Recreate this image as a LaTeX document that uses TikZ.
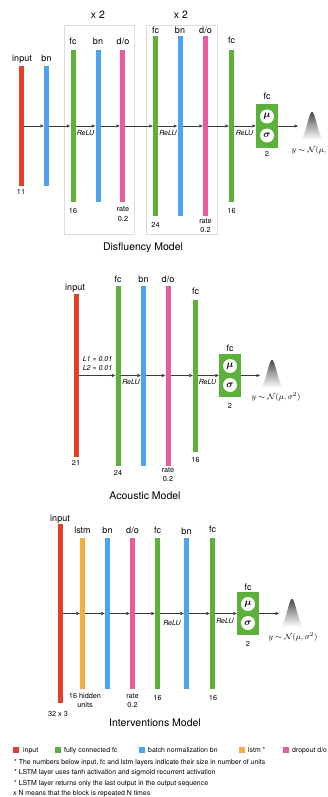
\documentclass[tikz,border=0pt]{standalone}
\usepackage{amsmath}
\usepackage{fontspec}
\setmainfont{TeX Gyre Heros}
\usetikzlibrary{arrows.meta}
\definecolor{cin}{HTML}{E0412B}
\definecolor{cfc}{HTML}{5BB13A}
\definecolor{cbn}{HTML}{4DA3F3}
\definecolor{cdo}{HTML}{EA5A9F}
\definecolor{cls}{HTML}{F3AF3E}
\definecolor{cgrp}{HTML}{DDDDDD}
\definecolor{carr}{HTML}{3A3A3A}
\newcommand\gausscurve[2]{\shade[top color=black!72, bottom color=white, middle color=black!35] plot[domain=-14:14, samples=60, smooth] ({#1+\x},{#2-28*exp(-((\x/6.4)*(\x/6.4)))}) -- cycle;}
\begin{document}
\begin{tikzpicture}[x=1pt,y=-1pt,
 bar/.style={draw=none,inner sep=0,minimum width=5pt},
 lab/.style={font=\fontsize{9}{10}\selectfont, inner sep=0, anchor=base},
 num/.style={font=\fontsize{7.3}{9.3}\selectfont, inner sep=0, anchor=base},
 relu/.style={font=\fontsize{7}{8}\selectfont\itshape, inner sep=0, anchor=base},
 ttl/.style={font=\fontsize{10.5}{12}\selectfont, inner sep=0, anchor=base},
 dist/.style={font=\fontsize{8}{9}\selectfont, inner sep=0},
 note/.style={font=\fontsize{6.9}{8}\selectfont, inner sep=0, anchor=base west},
 arr/.style={draw=carr, line width=0.6pt, -{Triangle[length=3.5pt,width=3pt]}},
 fcbox/.style={fill=cfc, minimum width=22pt, minimum height=43pt, inner sep=0},
 circ/.style={circle, fill=white, minimum size=14pt, inner sep=0, font=\fontsize{10}{10}\selectfont},
 grp/.style={draw=cgrp, line width=0.6pt},
 sq/.style={inner sep=0, minimum size=6pt},
]
\useasboundingbox (0,0) rectangle (328,797);

% ================= Disfluency model =================
\draw[grp] (64,25) rectangle (134,234);
\draw[grp] (146,25) rectangle (217,234);
\node[ttl] (dx1) at (98,19) {x 2};
\node[ttl] (dx2) at (181,19) {x 2};

\node[bar, fill=cin, minimum height=119pt] (din) at (21,126) {};
\node[bar, fill=cbn, minimum height=119pt] (dbn1) at (46.5,126) {};
\node[bar, fill=cfc, minimum height=152pt] (dfc1) at (73,126) {};
\node[bar, fill=cbn, minimum height=152pt] (dbn2) at (98,126) {};
\node[bar, fill=cdo, minimum height=152pt] (ddo1) at (122.5,126) {};
\node[bar, fill=cfc, minimum height=179pt] (dfc2) at (155.5,126) {};
\node[bar, fill=cbn, minimum height=179pt] (dbn3) at (180,126) {};
\node[bar, fill=cdo, minimum height=179pt] (ddo2) at (205.5,126) {};
\node[bar, fill=cfc, minimum height=151pt] (dfc3) at (231.5,126) {};
\node[fcbox] (dbox) at (267,126) {};
\node[circ] (dmu) at ([yshift=9.5pt]dbox.center) {$\boldsymbol{\mu}$};
\node[circ] (dsig) at ([yshift=-9.5pt]dbox.center) {$\boldsymbol{\sigma}$};
\coordinate (dg) at (298,126);

\node[lab] (dl1) at (22,62) {input};
\node[lab] (dl2) at (46.5,62) {bn};
\node[lab] (dl3) at (73,45) {fc};
\node[lab] (dl4) at (98,45) {bn};
\node[lab] (dl5) at (123,45) {d/o};
\node[lab] (dl6) at (155.5,34) {fc};
\node[lab] (dl7) at (180,34) {bn};
\node[lab] (dl8) at (205.5,34) {d/o};
\node[lab] (dl9) at (231.5,44) {fc};
\node[lab] (dl10) at (267,100) {fc};

\node[num] (dn1) at (21,194.6) {11};
\node[num] (dn2) at (73,213.6) {16};
\node[num] (dn3a) at (123,211.5) {rate};
\node[num] (dn3b) at (123,221.6) {0.2};
\node[num] (dn4) at (155.5,227.6) {24};
\node[num] (dn5a) at (205.5,223.5) {rate};
\node[num] (dn5b) at (205.5,232.6) {0.2};
\node[num] (dn6) at (231.5,213.6) {16};
\node[num] (dn7) at (267,156.6) {2};

\draw[arr] (din) -- (dbn1);
\draw[arr] (dbn1) -- (dfc1);
\draw[arr] (dfc1) -- (dbn2);
\draw[arr] (dbn2) -- (ddo1);
\draw[arr] (ddo1) -- (dfc2);
\draw[arr] (dfc2) -- (dbn3);
\draw[arr] (dbn3) -- (ddo2);
\draw[arr] (ddo2) -- (dfc3);
\draw[arr] (dfc3) -- (dbox);
\draw[arr] (dbox) -- (dg);
\node[relu] (dr1) at (85.5,135.5) {ReLU};
\node[relu] (dr2) at (168,135.5) {ReLU};
\node[relu] (dr3) at (244.5,135.5) {ReLU};

\gausscurve{312}{140}
\node[dist] (dy) at (316,150) {$y\sim\mathcal{N}(\mu,\sigma^2)$};
\node[ttl] (dt) at (143,250) {Disfluency Model};

% ================= Acoustic model =================
\node[bar, fill=cin, minimum height=163pt] (ain) at (76,375.5) {};
\node[bar, fill=cfc, minimum height=180pt] (afc1) at (118,375.5) {};
\node[bar, fill=cbn, minimum height=180pt] (abn) at (143.5,375.5) {};
\node[bar, fill=cdo, minimum height=180pt] (ado) at (168,375.5) {};
\node[bar, fill=cfc, minimum height=152pt] (afc2) at (195.5,375.5) {};
\node[fcbox] (abox) at (230,375.5) {};
\node[circ] (amu) at ([yshift=9.5pt]abox.center) {$\boldsymbol{\mu}$};
\node[circ] (asig) at ([yshift=-9.5pt]abox.center) {$\boldsymbol{\sigma}$};
\coordinate (ag) at (260,375.5);

\node[lab] (al1) at (75,290) {input};
\node[lab] (al2) at (118,282) {fc};
\node[lab] (al3) at (143.5,282) {bn};
\node[lab] (al4) at (168,282) {d/o};
\node[lab] (al5) at (195.5,294) {fc};
\node[lab] (al6) at (230,351) {fc};

\node[num] (an1) at (76,465.6) {21};
\node[num] (an2) at (118,475.6) {24};
\node[num] (an3a) at (168,472.5) {rate};
\node[num] (an3b) at (168,481.6) {0.2};
\node[num] (an4) at (195.5,462.6) {16};
\node[num] (an5) at (230,408.6) {2};

\draw[arr] (ain) -- (afc1);
\draw[arr] (afc1) -- (abn);
\draw[arr] (abn) -- (ado);
\draw[arr] (ado) -- (afc2);
\draw[arr] (afc2) -- (abox);
\draw[arr] (abox) -- (ag);
\node[relu] (ar0) at (97.5,361.5) {L1 = 0.01};
\node[relu] (ar00) at (97.5,370.5) {L2 = 0.01};
\node[relu] (ar1) at (131,384.5) {ReLU};
\node[relu] (ar2) at (207.5,384.5) {ReLU};

\gausscurve{272}{388}
\node[dist] (ay) at (276,397) {$y\sim\mathcal{N}(\mu,\sigma^2)$};
\node[ttl] (at) at (145,499) {Acoustic Model};

% ================= Interventions model =================
\node[bar, fill=cin, minimum height=179pt] (iin) at (60,613.5) {};
\node[bar, fill=cls, minimum height=151pt] (ils) at (82.5,613.5) {};
\node[bar, fill=cbn, minimum height=151pt] (ibn1) at (107.5,613.5) {};
\node[bar, fill=cdo, minimum height=151pt] (ido) at (132.5,613.5) {};
\node[bar, fill=cfc, minimum height=151pt] (ifc1) at (157.5,613.5) {};
\node[bar, fill=cbn, minimum height=151pt] (ibn2) at (186.5,613.5) {};
\node[bar, fill=cfc, minimum height=151pt] (ifc2) at (212.5,613.5) {};
\node[fcbox] (ibox) at (248,613.5) {};
\node[circ] (imu) at ([yshift=9.5pt]ibox.center) {$\boldsymbol{\mu}$};
\node[circ] (isig) at ([yshift=-9.5pt]ibox.center) {$\boldsymbol{\sigma}$};
\coordinate (ig) at (279,613.5);

\node[lab] (il1) at (60,521) {input};
\node[lab] (il2) at (82.5,533) {lstm};
\node[lab] (il3) at (107.5,533) {bn};
\node[lab] (il4) at (132.5,533) {d/o};
\node[lab] (il5) at (157.5,533) {fc};
\node[lab] (il6) at (186.5,534) {bn};
\node[lab] (il7) at (212.5,532) {fc};
\node[lab] (il8) at (248,590) {fc};

\node[num] (in1) at (58,716.6) {32 x 3};
\node[num] (in2a) at (85,698.5) {16 hidden};
\node[num] (in2b) at (85,707) {units};
\node[num] (in3a) at (132.5,698.5) {rate};
\node[num] (in3b) at (132.5,707.6) {0.2};
\node[num] (in4) at (157.5,700.6) {16};
\node[num] (in5) at (213,700.6) {16};
\node[num] (in6) at (248,646.6) {2};

\draw[arr] (iin) -- (ils);
\draw[arr] (ils) -- (ibn1);
\draw[arr] (ibn1) -- (ido);
\draw[arr] (ido) -- (ifc1);
\draw[arr] (ifc1) -- (ibn2);
\draw[arr] (ibn2) -- (ifc2);
\draw[arr] (ifc2) -- (ibox);
\draw[arr] (ibox) -- (ig);
\node[relu] (ir1) at (172,625.5) {ReLU};
\node[relu] (ir2) at (225,623.5) {ReLU};

\gausscurve{292}{627}
\node[dist] (iy) at (293,637) {$y\sim\mathcal{N}(\mu,\sigma^2)$};
\node[ttl] (it) at (155,726) {Interventions Model};

% ================= Legend =================
\node[sq, fill=cin] (lg1) at (16,750) {};
\node[note] (lt1) at (23,752.5) {input};
\node[sq, fill=cfc] (lg2) at (58,750) {};
\node[note] (lt2) at (64,752.5) {fully connected fc};
\node[sq, fill=cbn] (lg3) at (142,750) {};
\node[note] (lt3) at (148,752.5) {batch normalization bn};
\node[sq, fill=cls] (lg4) at (242,750) {};
\node[note] (lt4) at (248,752.5) {lstm *};
\node[sq, fill=cdo] (lg5) at (286,750) {};
\node[note] (lt5) at (292,752.5) {dropout d/o};

\node[note] (nt1) at (14,764.5) {* The numbers below input, fc and lstm layers indicate their size in number of units};
\node[note] (nt2) at (14,774.5) {* LSTM layer uses tanh activation and sigmoid recurrent activation};
\node[note] (nt3) at (14,785.5) {* LSTM layer returns only the last output in the output sequence};
\node[note] (nt4) at (13,795.5) {x N means that the block is repeated N times};
\end{tikzpicture}
\end{document}
